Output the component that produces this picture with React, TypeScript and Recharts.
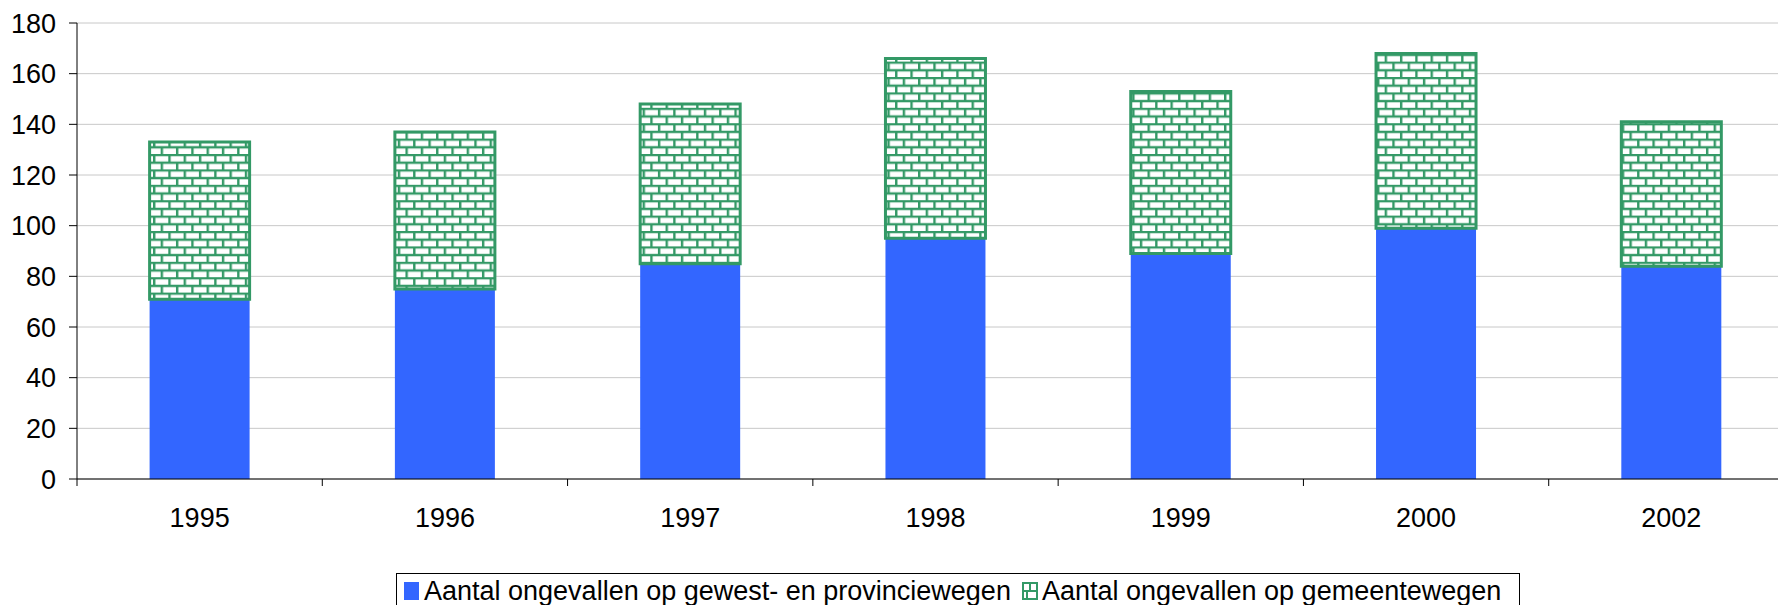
import React from "react";
import { BarChart, Bar, XAxis, YAxis, CartesianGrid, Legend } from "recharts";

const years = ["1995", "1996", "1997", "1998", "1999", "2000", "2002"];
const gewestProvincie = [71, 75, 85, 95, 89, 99, 84];
const gemeente = [62, 62, 63, 71, 64, 69, 57];
const yTicks = [0, 20, 40, 60, 80, 100, 120, 140, 160, 180];

const seriesNames = [
  "Aantal ongevallen op gewest- en provinciewegen",
  "Aantal ongevallen op gemeentewegen",
];

const BLUE = "#3366FF";
const GREEN = "#339966";
const FONT = "'Liberation Sans', Arial, sans-serif";

const data = years.map((y, i) => ({
  year: y,
  a: gewestProvincie[i],
  b: gemeente[i],
}));

const X_TICK_SIZE = 7;
const X_TICK_MARGIN = 22;

const XTick = (props: any) => {
  const { x, y, payload } = props;
  const off = payload && payload.offset ? payload.offset : 122.64;
  const axisY = y - X_TICK_MARGIN - X_TICK_SIZE;
  return (
    <g>
      <line x1={x - off} x2={x - off} y1={axisY} y2={axisY + X_TICK_SIZE} stroke="#000" strokeWidth={1} />
      <text x={x} y={y} dy="0.69em" textAnchor="middle" fontSize={27} fontFamily={FONT} fill="#000">
        {payload.value}
      </text>
    </g>
  );
};

const BrickIcon = () => (
  <svg width={16} height={18} style={{ display: "block" }}>
    <rect x={1} y={1} width={14} height={16} fill="#fff" stroke={GREEN} strokeWidth={2} />
    <line x1={1} x2={15} y1={9} y2={9} stroke={GREEN} strokeWidth={2} />
    <line x1={8} x2={8} y1={1} y2={9} stroke={GREEN} strokeWidth={2} />
    <line x1={5} x2={5} y1={9} y2={17} stroke={GREEN} strokeWidth={2} />
  </svg>
);

const LegendBox = () => (
  <div
    style={{
      boxSizing: "border-box",
      width: 1124,
      height: 38,
      border: "1px solid #000",
      background: "#fff",
      display: "flex",
      alignItems: "center",
      paddingLeft: 7,
      paddingBottom: 2,
      fontFamily: FONT,
      fontSize: 27,
      color: "#000",
      whiteSpace: "nowrap",
    }}
  >
    <div style={{ width: 15, height: 18, background: BLUE, marginRight: 5 }} />
    <span>{seriesNames[0]}</span>
    <div style={{ marginLeft: 11, marginRight: 4 }}>
      <BrickIcon />
    </div>
    <span>{seriesNames[1]}</span>
  </div>
);

export default function App() {
  return (
    <div
      style={{
        position: "fixed",
        left: 0,
        top: 0,
        width: 1778,
        height: 605,
        overflow: "hidden",
        background: "#fff",
      }}
    >
      <BarChart
        width={1800}
        height={620}
        data={data}
        margin={{ top: 23, right: 6, left: 0, bottom: 9 }}
        barCategoryGap="29.6%"
      >
        <defs>
          <pattern id="brick" patternUnits="userSpaceOnUse" width={15.3} height={15.4}>
            <rect x={0} y={0} width={15.3} height={15.4} fill="#fff" />
            <line x1={0} x2={15.3} y1={1} y2={1} stroke={GREEN} strokeWidth={2.4} />
            <line x1={0} x2={15.3} y1={8.7} y2={8.7} stroke={GREEN} strokeWidth={2.4} />
            <line x1={1.2} x2={1.2} y1={0} y2={8.7} stroke={GREEN} strokeWidth={2.4} />
            <line x1={8.85} x2={8.85} y1={8.7} y2={15.4} stroke={GREEN} strokeWidth={2.4} />
          </pattern>
        </defs>
        <CartesianGrid vertical={false} stroke="#c8c8c8" strokeWidth={1} />
        <XAxis
          dataKey="year"
          height={94}
          axisLine={{ stroke: "#000", strokeWidth: 1 }}
          tickLine={false}
          tickSize={X_TICK_SIZE}
          tickMargin={X_TICK_MARGIN}
          tick={<XTick />}
          interval={0}
        />
        <YAxis
          width={77}
          domain={[0, 180]}
          ticks={yTicks}
          interval={0}
          axisLine={{ stroke: "#000", strokeWidth: 1 }}
          tickLine={{ stroke: "#000", strokeWidth: 1 }}
          tickSize={8}
          tickMargin={13}
          tick={{ fontSize: 27, fontFamily: FONT, fill: "#000" }}
        />
        <Legend
          verticalAlign="bottom"
          wrapperStyle={{ left: 396, width: 1124, height: 38 }}
          content={() => <LegendBox />}
        />
        <Bar dataKey="a" name={seriesNames[0]} stackId="s" fill={BLUE} isAnimationActive={false} />
        <Bar
          dataKey="b"
          name={seriesNames[1]}
          stackId="s"
          fill="url(#brick)"
          stroke={GREEN}
          strokeWidth={3}
          isAnimationActive={false}
        />
      </BarChart>
    </div>
  );
}
